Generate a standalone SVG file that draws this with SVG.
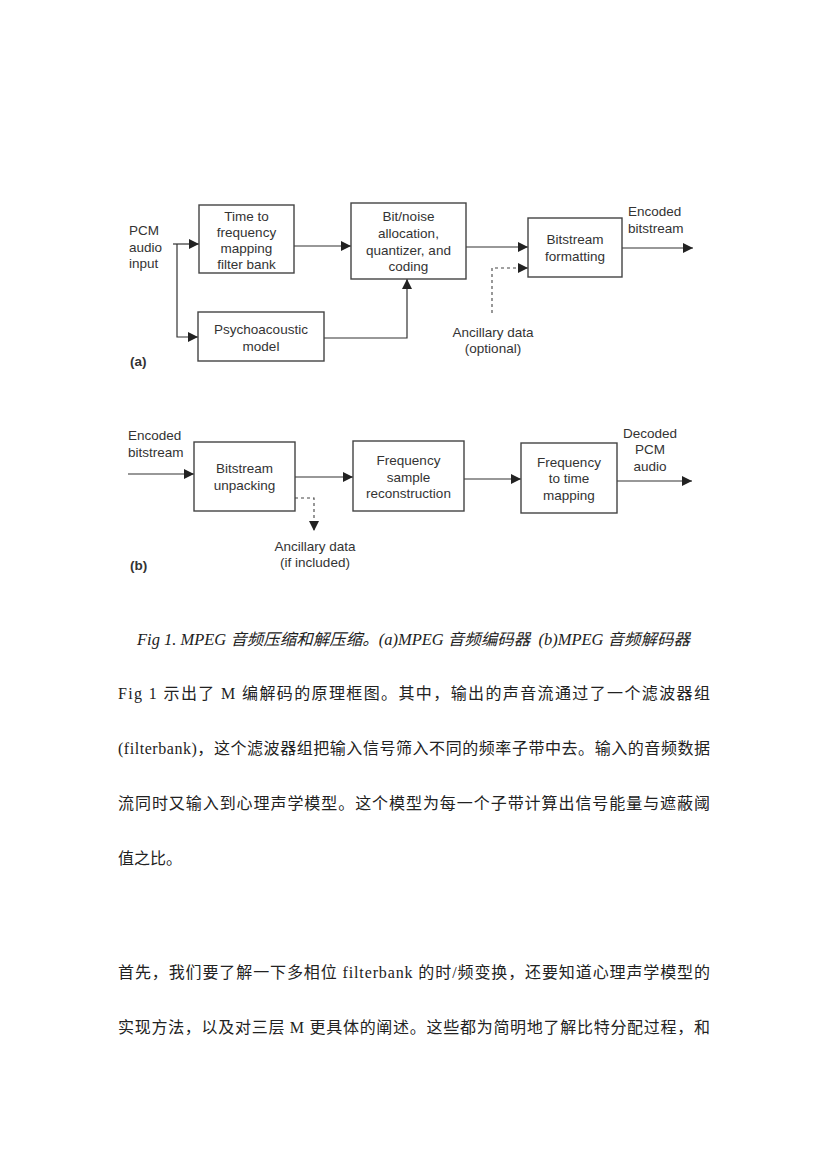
<svg xmlns="http://www.w3.org/2000/svg" width="827" height="1170" viewBox="0 0 827 1170">
<defs>
<marker id="ah" viewBox="0 0 10 10" refX="10" refY="5" markerWidth="10" markerHeight="10" markerUnits="userSpaceOnUse" orient="auto">
<path d="M0,0 L10,5 L0,10 z" fill="#222"/>
</marker>
</defs>
<style>
.box{fill:#fff;stroke:#444;stroke-width:1.4}
.lbl{font-family:"Liberation Sans",Arial,sans-serif;font-size:13.5px;fill:#333;text-anchor:middle}
.lbll{font-family:"Liberation Sans",Arial,sans-serif;font-size:13.5px;fill:#333}
.ln{fill:none;stroke:#333;stroke-width:1.2}
.dash{fill:none;stroke:#444;stroke-width:1.1;stroke-dasharray:3,3}
.cap{font-family:"Liberation Serif","Noto Sans CJK SC",serif;font-size:16px;font-style:italic;fill:#222}
.body{font-family:"Liberation Serif","Noto Sans CJK SC",serif;font-size:16px;fill:#222}
</style>
<rect width="827" height="1170" fill="#fff"/>

<g id="connectors">
<path class="ln" d="M173,244 L199,244" marker-end="url(#ah)"/>
<path class="ln" d="M177,244 L177,337 L198,337" marker-end="url(#ah)"/>
<path class="ln" d="M294,246 L351,246" marker-end="url(#ah)"/>
<path class="ln" d="M324,338 L407,338 L407,279" marker-end="url(#ah)"/>
<path class="ln" d="M466,247 L528,247" marker-end="url(#ah)"/>
<path class="dash" d="M492,313 L492,268 L528,268" marker-end="url(#ah)"/>
<path class="ln" d="M622,248 L693,248" marker-end="url(#ah)"/>
<path class="ln" d="M128,474 L194,474" marker-end="url(#ah)"/>
<path class="ln" d="M295,477 L353,477" marker-end="url(#ah)"/>
<path class="dash" d="M295,498 L314,498 L314,531" marker-end="url(#ah)"/>
<path class="ln" d="M464,479 L521,479" marker-end="url(#ah)"/>
<path class="ln" d="M617,481 L692,481" marker-end="url(#ah)"/>
</g>

<g id="label-pcm-in"><text class="lbll" x="129" y="235">PCM</text><text class="lbll" x="129" y="252">audio</text><text class="lbll" x="129" y="268">input</text></g>

<g id="node-filterbank">
<rect class="box" x="199" y="205" width="95" height="68"/>
<text class="lbl" x="246.5" y="221">Time to</text>
<text class="lbl" x="246.5" y="237">frequency</text>
<text class="lbl" x="246.5" y="253">mapping</text>
<text class="lbl" x="246.5" y="269">filter bank</text>
</g>

<g id="node-bitnoise">
<rect class="box" x="351" y="203" width="115" height="76"/>
<text class="lbl" x="408.5" y="221">Bit/noise</text>
<text class="lbl" x="408.5" y="238">allocation,</text>
<text class="lbl" x="408.5" y="255">quantizer, and</text>
<text class="lbl" x="408.5" y="271">coding</text>
</g>

<g id="node-psycho">
<rect class="box" x="198" y="312" width="126" height="49"/>
<text class="lbl" x="261" y="334">Psychoacoustic</text>
<text class="lbl" x="261" y="351">model</text>
</g>

<g id="node-bsformat">
<rect class="box" x="528" y="218" width="94" height="59"/>
<text class="lbl" x="575" y="244">Bitstream</text>
<text class="lbl" x="575" y="261">formatting</text>
</g>

<g id="label-enc-out"><text class="lbll" x="628" y="216">Encoded</text><text class="lbll" x="628" y="233">bitstream</text></g>
<g id="label-anc-a"><text class="lbl" x="493" y="337">Ancillary data</text><text class="lbl" x="493" y="353">(optional)</text></g>
<text class="lbll" x="130" y="366" font-weight="bold">(a)</text>

<g id="label-enc-in"><text class="lbll" x="128" y="440">Encoded</text><text class="lbll" x="128" y="457">bitstream</text></g>

<g id="node-unpack">
<rect class="box" x="194" y="442" width="101" height="69"/>
<text class="lbl" x="244.5" y="473">Bitstream</text>
<text class="lbl" x="244.5" y="490">unpacking</text>
</g>

<g id="node-freqsample">
<rect class="box" x="353" y="441" width="111" height="70"/>
<text class="lbl" x="408.5" y="465">Frequency</text>
<text class="lbl" x="408.5" y="482">sample</text>
<text class="lbl" x="408.5" y="498">reconstruction</text>
</g>

<g id="node-freqtime">
<rect class="box" x="521" y="443" width="96" height="70"/>
<text class="lbl" x="569" y="467">Frequency</text>
<text class="lbl" x="569" y="483">to time</text>
<text class="lbl" x="569" y="500">mapping</text>
</g>

<g id="label-dec-out"><text class="lbl" x="650" y="438">Decoded</text><text class="lbl" x="650" y="454">PCM</text><text class="lbl" x="650" y="471">audio</text></g>
<g id="label-anc-b"><text class="lbl" x="315" y="551">Ancillary data</text><text class="lbl" x="315" y="567">(if included)</text></g>
<text class="lbll" x="130" y="570" font-weight="bold">(b)</text>

<text class="cap" x="137" y="645" textLength="553" lengthAdjust="spacingAndGlyphs" xml:space="preserve">Fig 1. MPEG 音频压缩和解压缩。(a)MPEG 音频编码器  (b)MPEG 音频解码器</text>

<text class="body" x="118" y="699" textLength="592" lengthAdjust="spacing">Fig 1 示出了 M 编解码的原理框图。其中，输出的声音流通过了一个滤波器组</text>
<text class="body" x="118" y="754" textLength="592" lengthAdjust="spacing">(filterbank)，这个滤波器组把输入信号筛入不同的频率子带中去。输入的音频数据</text>
<text class="body" x="118" y="809" textLength="592" lengthAdjust="spacing">流同时又输入到心理声学模型。这个模型为每一个子带计算出信号能量与遮蔽阈</text>
<text class="body" x="118" y="864">值之比。</text>
<text class="body" x="118" y="978" textLength="592" lengthAdjust="spacing">首先，我们要了解一下多相位 filterbank 的时/频变换，还要知道心理声学模型的</text>
<text class="body" x="118" y="1033" textLength="592" lengthAdjust="spacing">实现方法，以及对三层 M 更具体的阐述。这些都为简明地了解比特分配过程，和</text>
</svg>
